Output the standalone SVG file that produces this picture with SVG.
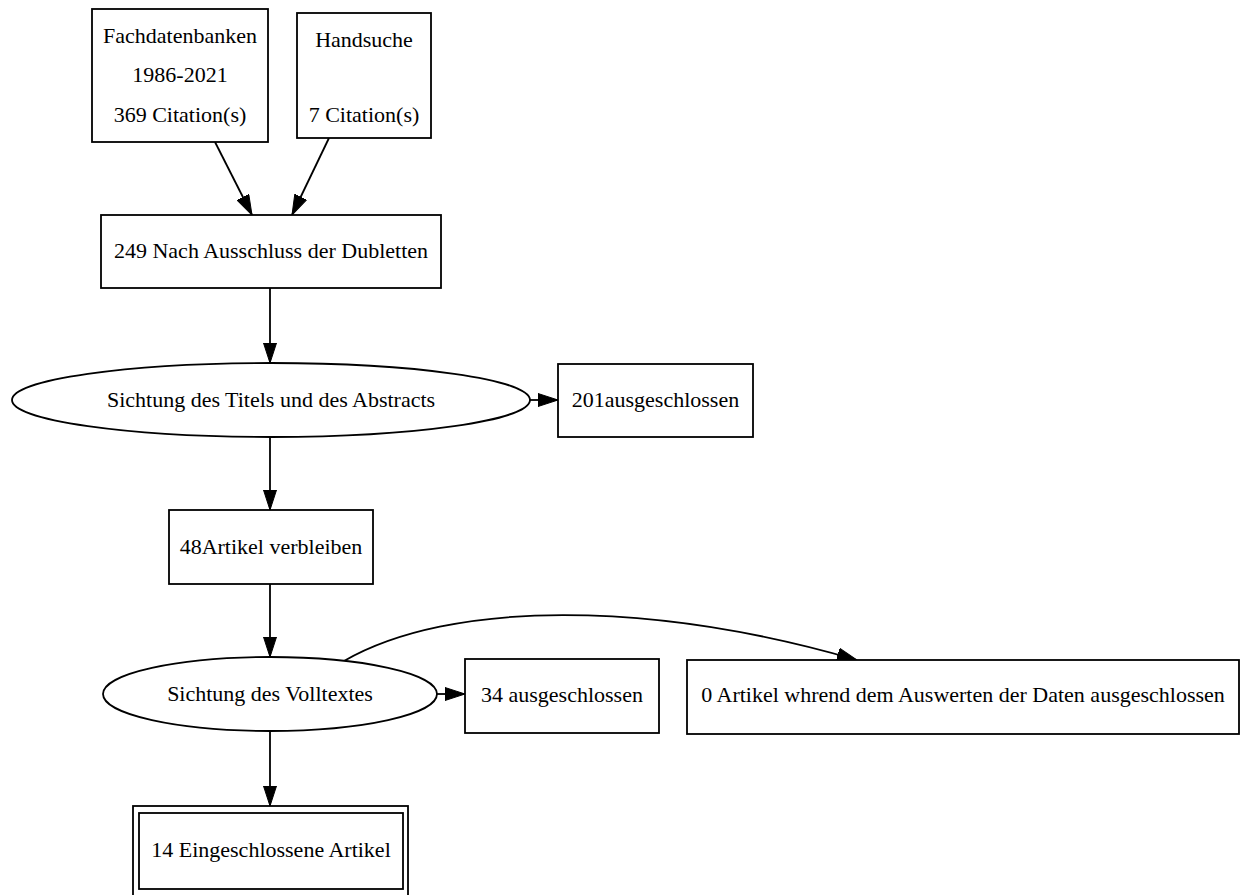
<svg xmlns="http://www.w3.org/2000/svg" width="1246" height="895" viewBox="0 0 1246 895">
<style>
.n{fill:#fff;stroke:#000;stroke-width:1.8}
.t{font-family:"Liberation Serif","Times New Roman",serif;font-size:22px;fill:#000;text-anchor:middle}
.e{fill:none;stroke:#000;stroke-width:1.8}
</style>
<defs>
<marker id="ah" markerUnits="userSpaceOnUse" markerWidth="20" markerHeight="14" refX="20" refY="7" orient="auto">
<path d="M0,0.5 L20,7 L0,13.5 z" fill="#000" stroke="#000" stroke-width="1"/>
</marker>
</defs>
<rect width="1246" height="895" fill="#fff"/>
<g id="connectors">
<line class="e" x1="215" y1="142" x2="252" y2="215" marker-end="url(#ah)"/>
<line class="e" x1="329" y1="138" x2="292" y2="215" marker-end="url(#ah)"/>
<line class="e" x1="270" y1="288" x2="270" y2="363" marker-end="url(#ah)"/>
<line class="e" x1="530" y1="400" x2="558" y2="400" marker-end="url(#ah)"/>
<line class="e" x1="270" y1="437" x2="270" y2="510" marker-end="url(#ah)"/>
<line class="e" x1="270" y1="584" x2="270" y2="657" marker-end="url(#ah)"/>
<line class="e" x1="437" y1="694" x2="465" y2="694" marker-end="url(#ah)"/>
<path class="e" d="M344,661 C450,600 650,600 857,660" marker-end="url(#ah)"/>
<line class="e" x1="270" y1="731" x2="270" y2="806" marker-end="url(#ah)"/>
</g>
<g id="fachdatenbanken">
<rect class="n" x="92" y="9" width="176" height="133"/>
<text class="t" x="180" y="43">Fachdatenbanken</text>
<text class="t" x="180" y="82">1986-2021</text>
<text class="t" x="180" y="122">369 Citation(s)</text>
</g>
<g id="handsuche">
<rect class="n" x="297" y="13" width="134" height="125"/>
<text class="t" x="364" y="47">Handsuche</text>
<text class="t" x="364" y="122">7 Citation(s)</text>
</g>
<g id="dubletten">
<rect class="n" x="101" y="215" width="340" height="73"/>
<text class="t" x="271" y="258">249 Nach Ausschluss der Dubletten</text>
</g>
<g id="sichtung-titel">
<ellipse class="n" cx="271" cy="400" rx="259" ry="37"/>
<text class="t" x="271" y="407">Sichtung des Titels und des Abstracts</text>
</g>
<g id="ausgeschlossen-201">
<rect class="n" x="558" y="364" width="195" height="73"/>
<text class="t" x="655.5" y="407">201ausgeschlossen</text>
</g>
<g id="verbleiben">
<rect class="n" x="169" y="510" width="204" height="74"/>
<text class="t" x="271" y="554">48Artikel verbleiben</text>
</g>
<g id="sichtung-volltext">
<ellipse class="n" cx="270" cy="694" rx="167" ry="37"/>
<text class="t" x="270" y="701">Sichtung des Volltextes</text>
</g>
<g id="ausgeschlossen-34">
<rect class="n" x="465" y="659" width="194" height="74"/>
<text class="t" x="562" y="702">34 ausgeschlossen</text>
</g>
<g id="ausgeschlossen-0">
<rect class="n" x="687" y="660" width="552" height="74"/>
<text class="t" x="963" y="702">0 Artikel whrend dem Auswerten der Daten ausgeschlossen</text>
</g>
<g id="eingeschlossen">
<rect class="n" x="133" y="806" width="275" height="92"/>
<rect class="n" x="139" y="813" width="264" height="76"/>
<text class="t" x="271" y="857">14 Eingeschlossene Artikel</text>
</g>
</svg>
